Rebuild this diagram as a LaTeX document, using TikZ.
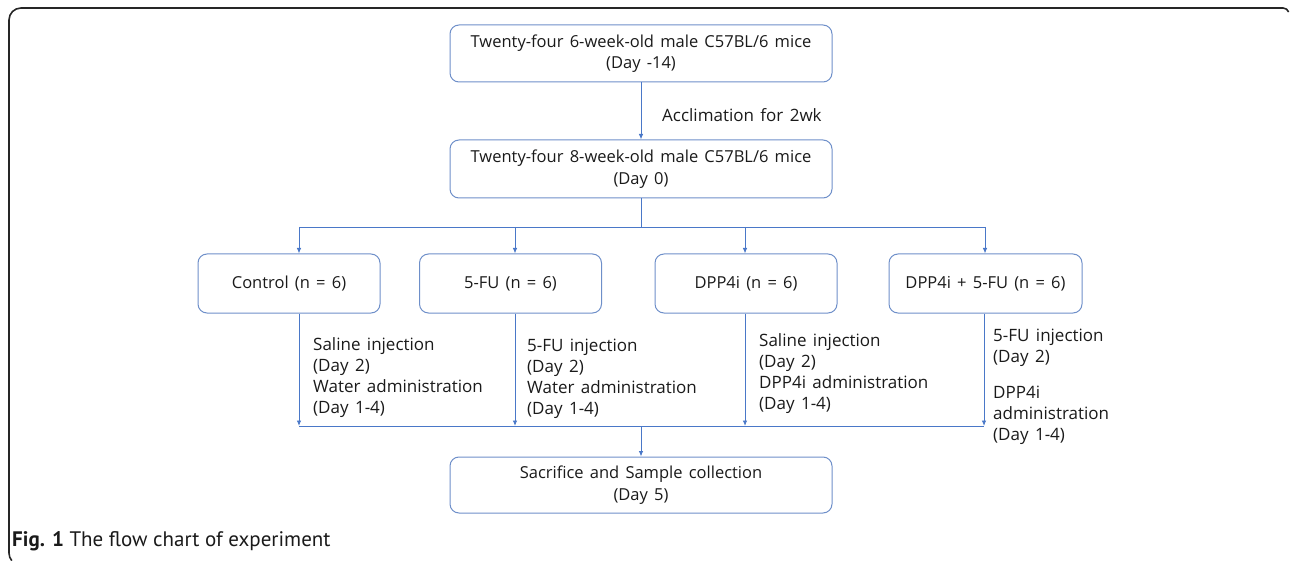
\documentclass[tikz,border=0pt]{standalone}
\usepackage{fontspec}
\setmainfont[WordSpace=1.45]{Open Sans}
\newfontfamily\capfont{PT Sans}
\usetikzlibrary{arrows.meta}
\definecolor{boxblue}{HTML}{6E8FC9}
\definecolor{linkblue}{HTML}{4A78C8}
\definecolor{txt}{HTML}{1A1A1A}
\tikzset{
  stepbox/.style={draw=boxblue, line width=1pt, rounded corners=9pt, text=txt, align=center, font=\fontsize{16.5}{21.5}\selectfont},
  link/.style={draw=linkblue, line width=0.9pt},
  arr/.style={link, -{Latex[length=5.5pt,width=4.5pt]}},
  lbl/.style={anchor=west, inner sep=0pt, align=left, text=txt, font=\fontsize{17}{21}\selectfont},
  frameline/.style={draw=black!85, line width=1.6pt},
}
\begin{document}
\begin{tikzpicture}[x=1pt,y=-1pt]
\useasboundingbox (0,0) rectangle (1290,561);
\draw[frameline] (11.8,560.7) arc[start angle=140, end angle=180, radius=12] -- (9,20) arc[start angle=180, end angle=270, radius=12] -- (1283,8) arc[start angle=270, end angle=340, radius=6];
\node[stepbox, minimum width=382pt, minimum height=57pt] (top) at (641,53.5) {Twenty-four 6-week-old male C57BL/6 mice\\(Day -14)};
\node[stepbox, minimum width=382pt, minimum height=58pt] (mid) at (641,169) {Twenty-four 8-week-old male C57BL/6 mice\\(Day 0)};
\node[stepbox, minimum width=182pt, minimum height=59pt] (ctrl) at (289,283.5) {Control (n = 6)};
\node[stepbox, minimum width=182pt, minimum height=59pt] (fu) at (510.5,283.5) {5-FU (n = 6)};
\node[stepbox, minimum width=182pt, minimum height=59pt] (dpp) at (746,283.5) {DPP4i (n = 6)};
\node[stepbox, minimum width=193pt, minimum height=59pt] (combo) at (985.5,283.5) {DPP4i + 5-FU (n = 6)};
\node[stepbox, minimum width=382pt, minimum height=56pt] (end) at (641,485) {Sacrifice and Sample collection\\(Day 5)};

\draw[arr] (top) -- (mid);
\node[lbl] (accl) at (662,115) {Acclimation for 2wk};

\coordinate (split) at (641,227);
\coordinate (s1) at (299,227);
\coordinate (s2) at (515,227);
\coordinate (s3) at (745,227);
\coordinate (s4) at (985,227);
\draw[link] (mid.south) -- (split);
\draw[link] (s1) -- (s4);
\draw[arr] (s1) -- (s1 |- ctrl.north);
\draw[arr] (s2) -- (s2 |- fu.north);
\draw[arr] (s3) -- (s3 |- dpp.north);
\draw[arr] (s4) -- (s4 |- combo.north);

\coordinate (j1) at (299,426);
\coordinate (j2) at (515,426);
\coordinate (j3) at (745,426);
\coordinate (j4) at (984,426);
\coordinate (join) at (641,426);
\draw[arr] (j1 |- ctrl.south) -- (j1);
\draw[arr] (j2 |- fu.south) -- (j2);
\draw[arr] (j3 |- dpp.south) -- (j3);
\draw[arr] (j4 |- combo.south) -- (j4);
\draw[link] (j1) -- (j4);
\draw[arr] (join) -- (end.north);

\node[lbl] (l1) at (313,377.5) {Saline injection\\(Day 2)\\Water administration\\(Day 1-4)};
\node[lbl] (l2) at (527,378.5) {5-FU injection\\(Day 2)\\Water administration\\(Day 1-4)};
\node[lbl] (l3) at (759,373.5) {Saline injection\\(Day 2)\\DPP4i administration\\(Day 1-4)};
\node[lbl] (l4a) at (993,348) {5-FU injection\\(Day 2)};
\node[lbl] (l4b) at (993,415) {DPP4i\\administration\\(Day 1-4)};

\node[anchor=west, inner sep=0pt, text=txt, font=\capfont\fontsize{21}{24}\selectfont] (cap) at (12,541) {\textbf{Fig. 1} The flow chart of experiment};
\end{tikzpicture}
\end{document}
